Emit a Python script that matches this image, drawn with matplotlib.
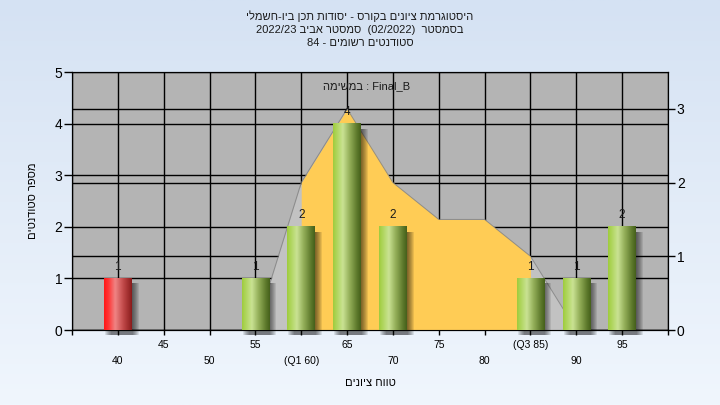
import matplotlib
matplotlib.use("Agg")
import matplotlib.pyplot as plt
import matplotlib.patches as patches
import matplotlib.transforms as mtransforms
from matplotlib.colors import LinearSegmentedColormap, to_rgb
import numpy as np

plt.rcParams['font.family'] = ['Liberation Sans', 'DejaVu Sans']

# Data
bins = [40, 45, 50, 55, 60, 65, 70, 75, 80, 85, 90, 95]
counts = [1, 0, 0, 1, 2, 4, 2, 0, 0, 1, 1, 2]
fail_limit = 55
tick_text = ['40', '45', '50', '55', '(Q1 60)', '65', '70', '75', '80', '(Q3 85)', '90', '95']
curve_x = [55, 60, 65, 70, 75, 80, 85, 90]
curve_y = [0, 2, 3, 2, 1.5, 1.5, 1, 0]
q1, q3 = 60, 85

title_lines = ["היסטוגרמת ציונים בקורס - יסודות תכן ביו-חשמלי",
               "בסמסטר  (02/2022)  סמסטר אביב 2022/23",
               "סטודנטים רשומים - 84"]
task_word = "במשימה"
task_name = "Final_B"
y_title = "מספר סטודנטים"
x_title = "טווח ציונים"

# Colors
C_PLOT = "#b4b4b4"
C_LIGHT = "#c2c2c2"
C_YELLOW = "#ffcc55"
C_TEXT = "#1a1a1a"
green_cmap = LinearSegmentedColormap.from_list(
    "g", [(0, "#9fcc3e"), (0.12, "#aed55a"), (0.35, "#c9e293"), (0.6, "#93ae58"),
          (0.88, "#5a7629"), (1, "#46601c")])
red_cmap = LinearSegmentedColormap.from_list(
    "r", [(0, "#ff1818"), (0.15, "#ff3434"), (0.4, "#f08484"), (0.7, "#c04848"),
          (1, "#8a1c1c")])


def rtl(s):
    # matplotlib has no bidi: put hebrew words into visual order
    out = []
    for t in reversed(s.split(' ')):
        if any('\u0590' <= c <= '\u05ff' for c in t):
            t = t[::-1]
        out.append(t)
    return ' '.join(out)


fig = plt.figure(figsize=(7.2, 4.05), dpi=100)

# background gradient
bg = fig.add_axes([0, 0, 1, 1], zorder=-10)
top, bot = np.array(to_rgb("#d5e2f3")), np.array(to_rgb("#f0f6fd"))
grad = np.linspace(0, 1, 256)[:, None, None] * (bot - top) + top
bg.imshow(np.repeat(grad, 2, axis=1), aspect='auto', extent=(0, 1, 0, 1))
bg.axis('off')

ax = fig.add_axes([72 / 720, 75 / 405, 596 / 720, 258 / 405])
ax.set_facecolor(C_PLOT)
ax2 = ax.twinx()   # right scale, distribution area
ax3 = ax.twinx()   # bars on the left scale, on top

xmin, xmax = 35, 100
ax.set_ylim(0, 5)
ax2.set_ylim(0, 3.5)
ax3.set_ylim(0, 5)

# grid
ax.set_xticks(np.arange(xmin, xmax + 1, 5))
ax.set_yticks(range(0, 6))
ax.grid(True, color='black', lw=1.0)
ax2.set_yticks(range(0, 4))
ax2.grid(True, axis='y', color='black', lw=1.0)
ax2.set_axisbelow(True)

# distribution area
ax2.fill_between(curve_x, curve_y, color=C_LIGHT, lw=0, zorder=1)
inside = [q1 <= x <= q3 for x in curve_x]
ax2.fill_between(curve_x, curve_y, where=inside, color=C_YELLOW, lw=0, zorder=1.2)
ax2.plot(curve_x, curve_y, color='#808080', lw=0.7, alpha=0.8, zorder=1.3)

# bars
bar_w = 3
for x, n in zip(bins, counts):
    if n == 0:
        continue
    cmap = red_cmap if x < fail_limit else green_cmap
    bar = ax3.bar(x, n, width=bar_w, color='none', lw=0, zorder=3)[0]
    # soft shadow
    for k in range(1, 8):
        tr = mtransforms.offset_copy(ax3.transData, fig=fig, x=k, y=-5, units='dots')
        ax3.add_patch(patches.Rectangle((x - bar_w / 2, 0), bar_w, n, transform=tr,
                                        facecolor='black', lw=0, alpha=0.09,
                                        zorder=2, clip_on=False))
    img = cmap(np.linspace(0, 1, 64))[None, :, :]
    ax3.imshow(img, aspect='auto', extent=(x - bar_w / 2, x + bar_w / 2, 0, n),
               zorder=3, interpolation='bilinear')
    ax3.text(x, n + 0.22, str(n), ha='center', va='center', fontsize=8.5, color=C_TEXT)

ax.set_xlim(xmin, xmax)
ax3.set_xlim(xmin, xmax)
ax3.set_ylim(0, 5)
ax3.yaxis.set_visible(False)
for s in ax3.spines.values():
    s.set_visible(False)

# x tick labels in two rows
labels = []
for v in range(xmin, xmax + 1, 5):
    if v in bins:
        i = bins.index(v)
        labels.append(tick_text[i] if i % 2 else '\n' + tick_text[i])
    else:
        labels.append('')
ax.set_xticklabels(labels)
for t in ax.get_xticklabels():
    t.set_linespacing(1.75)
ax.tick_params(axis='x', length=3.5, width=1, pad=4, labelsize=7.5, colors='black')
ax.tick_params(axis='y', length=5.5, width=1, pad=1.5, labelsize=10)
ax2.tick_params(axis='y', length=5.3, width=1, pad=1, labelsize=10)
for a in (ax, ax2):
    for s in a.spines.values():
        s.set_color('black')

ax.set_xlabel(rtl(x_title), fontsize=8, labelpad=8)
ax.set_ylabel(rtl(y_title), fontsize=8, labelpad=12)

# titles
for i, line in enumerate(title_lines):
    fig.text(0.5, 1 - (16.5 + 13.2 * i) / 405, rtl(line), ha='center', va='center',
             fontsize=8, color=C_TEXT)
fig.text(367 / 720, 1 - 86 / 405, task_word[::-1] + " : " + task_name,
         ha='center', va='center', fontsize=8, color=C_TEXT)

fig.savefig("out.png", dpi=100)
